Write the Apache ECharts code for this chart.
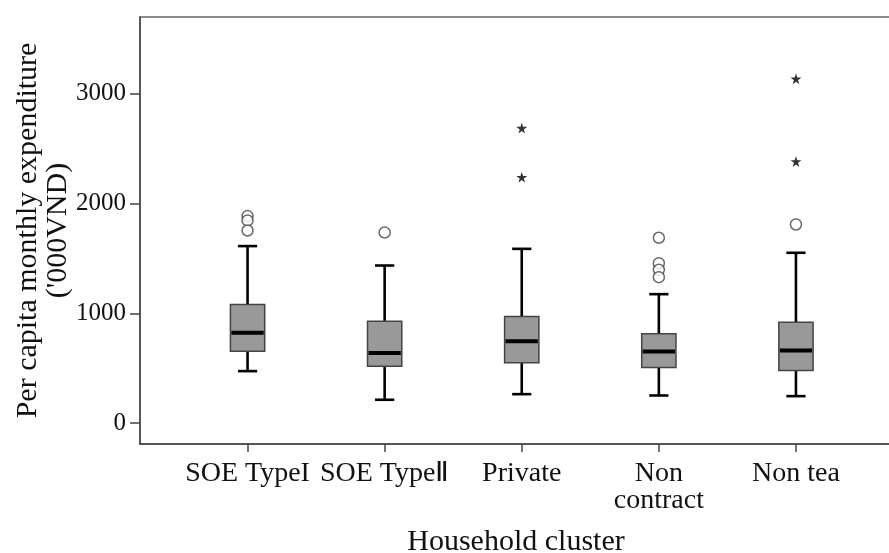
<!DOCTYPE html>
<html>
<head>
<meta charset="utf-8">
<script src="https://cdn.jsdelivr.net/npm/echarts@6/dist/echarts.min.js"></script>
<style>html,body{margin:0;padding:0;background:#fff;}#c{width:889px;height:553px;}</style>
</head>
<body>
<div id="c"></div>
<script>
const categories = ['SOE TypeI', 'SOE TypeⅡ', 'Private', 'Non\ncontract', 'Non tea'];
const lowWhisker = [474, 213, 264, 252, 246];
const q1 = [656, 519, 550, 507, 480];
const median = [823, 638, 747, 653, 662];
const q3 = [1081, 929, 972, 814, 920];
const highWhisker = [1613, 1436, 1588, 1175, 1552];
const outliers = [[0, 1886], [0, 1847], [0, 1755], [1, 1737], [3, 1689], [3, 1457], [3, 1397], [3, 1330], [4, 1810]];
const extremes = [[2, 2688], [2, 2241], [4, 3137], [4, 2384]];
const yTicks = [0, 1000, 2000, 3000];
const yMin = -190, yMax = 3700;

const FONT = 'Liberation Serif';
const boxData = categories.map((c, i) => [i, lowWhisker[i], q1[i], median[i], q3[i], highWhisker[i]]);

const chart = echarts.init(document.getElementById('c'), null, {renderer: 'canvas'});
chart.setOption({
  animation: false,
  backgroundColor: '#fff',
  grid: [
    {left: 140, top: 17, right: -3, bottom: 109, show: true, borderColor: '#666', borderWidth: 1.5, backgroundColor: 'transparent', outerBoundsMode: 'none', containLabel: false},
    {left: 179, top: 17, right: 24.5, bottom: 109, outerBoundsMode: 'none', containLabel: false}
  ],
  xAxis: [
    {gridIndex: 0, type: 'value', min: 0, max: 1,
     axisLine: {show: true, onZero: false, lineStyle: {color: '#444', width: 1.5}},
     axisTick: {show: false}, axisLabel: {show: false}, splitLine: {show: false},
     name: 'Household cluster', nameLocation: 'middle', nameGap: 83, nameMoveOverlap: false,
     nameTextStyle: {fontFamily: FONT, fontSize: 30, color: '#111'}},
    {gridIndex: 1, type: 'category', data: categories,
     axisLine: {show: false, onZero: false},
     axisTick: {show: true, alignWithLabel: true, length: 8, lineStyle: {color: '#444', width: 1.5}},
     axisLabel: {fontFamily: FONT, fontSize: 28, lineHeight: 27, color: '#111', margin: 16, interval: 0},
     splitLine: {show: false}}
  ],
  yAxis: [
    {gridIndex: 0, type: 'value', min: yMin, max: yMax,
     axisLine: {show: true, onZero: false, lineStyle: {color: '#444', width: 1.5}},
     axisTick: {show: true, length: 10, customValues: yTicks, lineStyle: {color: '#444', width: 1.5}},
     axisLabel: {customValues: yTicks, formatter: v => String(v), fontFamily: FONT, fontSize: 25, color: '#111', margin: 14},
     splitLine: {show: false},
     name: "Per capita monthly expenditure\n('000VND)", nameLocation: 'middle', nameGap: 67, nameRotate: 90, nameMoveOverlap: false,
     nameTextStyle: {fontFamily: FONT, fontSize: 30, lineHeight: 30, color: '#111'}},
    {gridIndex: 1, type: 'value', min: yMin, max: yMax, show: false}
  ],
  series: [
    {
      type: 'custom', xAxisIndex: 1, yAxisIndex: 1,
      data: boxData,
      encode: {x: 0, y: [1, 2, 3, 4, 5]},
      renderItem: function (params, api) {
        const cat = api.value(0);
        const band = api.size([1, 0])[0];
        const bw = band * 0.25, cw = band * 0.14;
        const x = api.coord([cat, 0])[0];
        const yL = api.coord([cat, api.value(1)])[1];
        const yQ1 = api.coord([cat, api.value(2)])[1];
        const yM = api.coord([cat, api.value(3)])[1];
        const yQ3 = api.coord([cat, api.value(4)])[1];
        const yH = api.coord([cat, api.value(5)])[1];
        const ws = {stroke: '#000', lineWidth: 2.6};
        return {type: 'group', children: [
          {type: 'line', shape: {x1: x, y1: yH, x2: x, y2: yQ3}, style: ws},
          {type: 'line', shape: {x1: x, y1: yQ1, x2: x, y2: yL}, style: ws},
          {type: 'line', shape: {x1: x - cw / 2, y1: yH, x2: x + cw / 2, y2: yH}, style: ws},
          {type: 'line', shape: {x1: x - cw / 2, y1: yL, x2: x + cw / 2, y2: yL}, style: ws},
          {type: 'rect', shape: {x: x - bw / 2, y: yQ3, width: bw, height: yQ1 - yQ3}, style: {fill: '#999999', stroke: '#444', lineWidth: 1.5}},
          {type: 'line', shape: {x1: x - bw / 2 + 1, y1: yM, x2: x + bw / 2 - 1, y2: yM}, style: {stroke: '#000', lineWidth: 4}}
        ]};
      }
    },
    {
      type: 'scatter', xAxisIndex: 1, yAxisIndex: 1,
      data: outliers, symbol: 'circle', symbolSize: 11,
      itemStyle: {color: '#fff', borderColor: '#444', borderWidth: 1.5}, z: 5
    },
    {
      type: 'scatter', xAxisIndex: 1, yAxisIndex: 1,
      data: extremes, symbol: 'path://M50,0 L61,35 L98,35 L68,57 L79,91 L50,70 L21,91 L32,57 L2,35 L39,35 Z',
      symbolSize: 11, itemStyle: {color: '#000'}, z: 5
    }
  ]
});
</script>
</body>
</html>
